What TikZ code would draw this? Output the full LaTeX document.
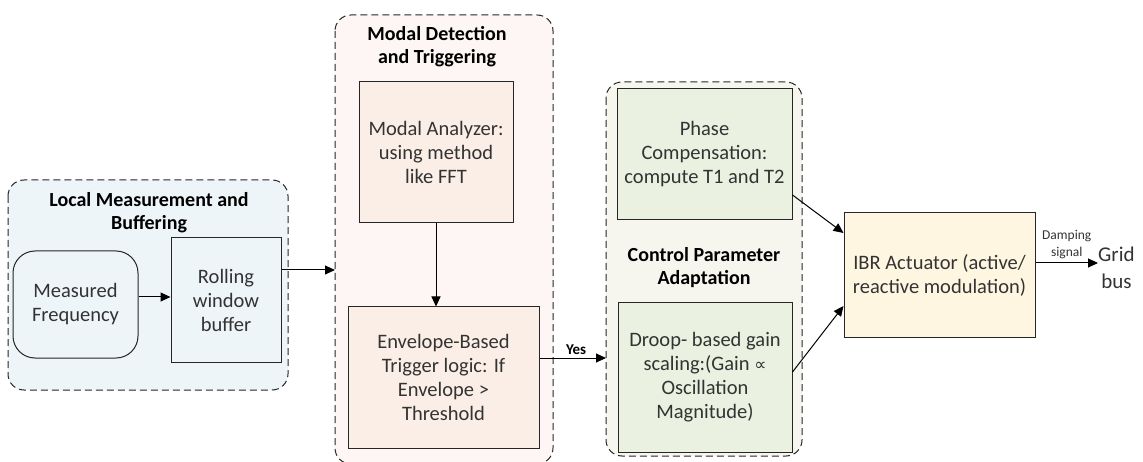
\documentclass[tikz,border=0pt]{standalone}
\usepackage{fontspec}
\setmainfont{Carlito}
\newfontfamily\symfont{DejaVu Sans}
\usetikzlibrary{arrows.meta}
\definecolor{lineC}{HTML}{262626}
\definecolor{measBg}{HTML}{EEF5F9}
\definecolor{modalBg}{HTML}{FEF6F4}
\definecolor{modalBox}{HTML}{FBEEE7}
\definecolor{ctrlBg}{HTML}{F6F6EF}
\definecolor{ctrlBox}{HTML}{EBF1E1}
\definecolor{actBox}{HTML}{FFF6E2}
\tikzset{
  group/.style={draw=lineC, line width=1pt, dash pattern=on 7pt off 4pt, rounded corners=16pt},
  block/.style={draw=lineC, line width=1pt, align=center, inner sep=2pt,
    font=\fontsize{20.5}{24}\selectfont, text=black!80},
  title/.style={align=center, font=\bfseries\fontsize{20}{23}\selectfont},
  flow/.style={-{Triangle[length=10pt,width=9pt]}, line width=1pt, draw=black},
}
\begin{document}
\begin{tikzpicture}[x=1pt,y=-1pt]
\useasboundingbox (0,0) rectangle (1143,462);

% group containers
\draw[group, fill=measBg] (8,180) rectangle (288,390);
\draw[group, fill=modalBg] (335,15) rectangle (553,464);
\draw[group, fill=ctrlBg] (606,82) rectangle (802,456);

% group headings
\node[title] (tMeas) at (149,213) {Local Measurement and\\Buffering};
\node[title] (tModal) at (437,47) {Modal Detection\\and Triggering};
\node[title] (tCtrl) at (704,268) {Control Parameter\\Adaptation};

% measurement stage
\node[block, fill=measBg, rounded corners=22pt, minimum width=125pt, minimum height=107pt]
  (meas) at (75.5,304.5) {Measured\\Frequency};
\node[block, fill=measBg, minimum width=110pt, minimum height=124pt]
  (roll) at (226,300) {Rolling\\window\\buffer};

% detection stage
\node[block, fill=modalBox, minimum width=154pt, minimum height=141pt]
  (modal) at (436,152.5) {Modal Analyzer:\\using method\\like FFT};
\node[block, fill=modalBox, minimum width=191pt, minimum height=141pt]
  (env) at (443.5,377.5) {Envelope-Based\\Trigger logic: If\\Envelope >\\Threshold};

% adaptation stage
\node[block, fill=ctrlBox, minimum width=175pt, minimum height=131pt]
  (phase) at (704.5,154.5) {Phase\\Compensation:\\compute T1 and T2};
\node[block, fill=ctrlBox, minimum width=174pt, minimum height=149pt]
  (droop) at (705,377.5) {Droop- based gain\\scaling:(Gain {\symfont\fontsize{17}{24}\selectfont ∝}\\Oscillation\\Magnitude)};

% actuator and output
\node[block, fill=actBox, minimum width=191pt, minimum height=124pt]
  (ibr) at (939.5,275) {IBR Actuator (active/\\reactive modulation)};
\node[align=center, font=\fontsize{21}{27}\selectfont, text=black!80, anchor=west, inner sep=0pt]
  (grid) at (1098,268) {Grid\\bus};

% connector ends on group borders
\coordinate (modalIn) at (335,270);
\coordinate (ctrlIn) at (606,358);

% connectors
\draw[flow] (meas.east |- 0,297) -- (roll.west |- 0,297);
\draw[flow] (roll.east |- 0,270) -- (modalIn);
\draw[flow] (modal.south) -- (env.north -| modal.south);
\draw[flow] (env.east |- 0,358) -- node[above, font=\bfseries\fontsize{15}{17}\selectfont, pos=0.55] {Yes} (ctrlIn);
\draw[flow] (phase.east |- 0,195) -- (ibr.west |- 0,233);
\draw[flow] (droop.east |- 0,372) -- (ibr.west |- 0,306);
\draw[flow] (ibr.east |- 0,263) -- node[above, align=center, font=\fontsize{13.5}{17}\selectfont, text=black!80] {Damping\\signal} (grid.west |- 0,263);
\end{tikzpicture}
\end{document}
